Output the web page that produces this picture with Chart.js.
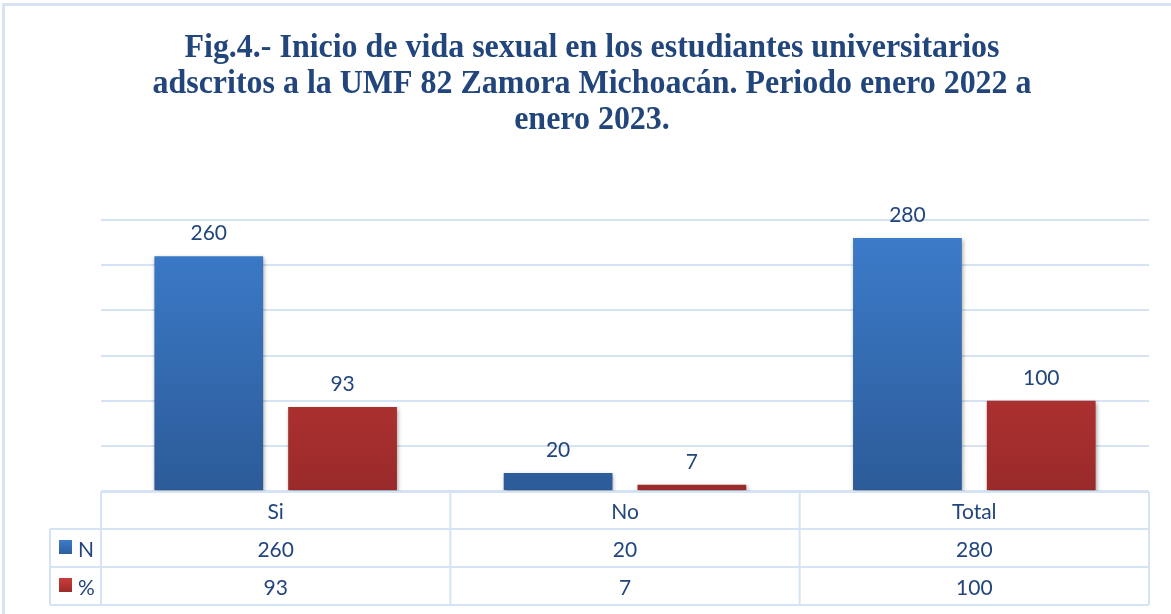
<!DOCTYPE html>
<html>
<head>
<meta charset="utf-8">
<script src="https://cdn.jsdelivr.net/npm/chart.js@4.4.1/dist/chart.umd.min.js"></script>
<style>
  html, body { margin: 0; padding: 0; background: #fff; }
  #wrap { width: 1171px; height: 614px; }
</style>
</head>
<body>
<div id="wrap"><canvas id="myChart" width="1171" height="614"></canvas></div>
<script>
// data
const categories = ["Si", "No", "Total"];
const valuesN = [260, 20, 280];
const valuesPct = [93, 7, 100];
const seriesNames = ["N", "%"];
const titleLines = [
    "Fig.4.- Inicio de vida sexual en los estudiantes universitarios",
    "adscritos a la UMF 82 Zamora Michoacán. Periodo enero 2022 a",
    "enero 2023."
];

const textBlue = "#22467c";
const lineBlue = "#d6e3f4";
const labelFont = "21px Lato, 'Open Sans', sans-serif";

const grad = (ctx, top, bottom) => {
    const chart = ctx.chart;
    const area = chart.chartArea;
    if (!area) return top;
    const g = chart.ctx.createLinearGradient(0, area.top, 0, area.bottom);
    g.addColorStop(0, top);
    g.addColorStop(1, bottom);
    return g;
};

const frame = {
    id: 'frame',
    beforeDraw: (chart) => {
        const ctx = chart.ctx;
        ctx.save();
        ctx.fillStyle = 'white';
        ctx.fillRect(0, 0, chart.width, chart.height);
        ctx.strokeStyle = lineBlue;
        ctx.lineWidth = 3;
        ctx.strokeRect(3.5, 4.5, chart.width + 10, chart.height + 10);
        // title
        ctx.fillStyle = textBlue;
        ctx.font = "bold 34px 'Liberation Serif', 'Times New Roman', serif";
        ctx.textAlign = 'center';
        ctx.textBaseline = 'alphabetic';
        const cx = 592;
        const sx = 0.94;
        titleLines.forEach((t, i) => {
            ctx.save();
            ctx.translate(cx, 57 + i * 36);
            ctx.scale(sx, 1);
            ctx.fillText(t, 0, 0);
            ctx.restore();
        });
        ctx.restore();
    }
};

const barShadow = {
    id: 'barShadow',
    beforeDatasetsDraw: (chart) => {
        const ctx = chart.ctx;
        ctx.save();
        ctx.shadowColor = 'rgba(0,0,0,0.35)';
        ctx.shadowBlur = 4;
        ctx.shadowOffsetX = 1;
        ctx.shadowOffsetY = 2;
    },
    afterDatasetsDraw: (chart) => {
        chart.ctx.restore();
    }
};

const labelsAndTable = {
    id: 'labelsAndTable',
    afterDraw: (chart) => {
        const ctx = chart.ctx;
        const area = chart.chartArea;
        const x = chart.scales.x;
        ctx.save();
        ctx.fillStyle = textBlue;
        ctx.font = labelFont;
        ctx.textAlign = 'center';
        ctx.textBaseline = 'alphabetic';
        // value labels above bars
        chart.data.datasets.forEach((ds, di) => {
            chart.getDatasetMeta(di).data.forEach((bar, i) => {
                ctx.fillText(String(ds.data[i]), bar.x, bar.y - 16);
            });
        });

        // data table
        const n = categories.length;
        const colW = (area.right - area.left) / n;
        const top = area.bottom + 1;
        const rowH = [37, 38, 38];
        const y1 = top + rowH[0];
        const y2 = y1 + rowH[1];
        const y3 = y2 + rowH[2];
        const leftX = 50;
        ctx.strokeStyle = lineBlue;
        ctx.lineWidth = 2;
        ctx.beginPath();
        // horizontal lines
        ctx.moveTo(area.left, top); ctx.lineTo(area.right, top);
        ctx.moveTo(leftX, y1); ctx.lineTo(area.right, y1);
        ctx.moveTo(leftX, y2); ctx.lineTo(area.right, y2);
        ctx.moveTo(leftX, y3); ctx.lineTo(area.right, y3);
        // vertical lines
        ctx.moveTo(leftX, y1); ctx.lineTo(leftX, y3);
        for (let i = 0; i <= n; i++) {
            const vx = area.left + i * colW;
            ctx.moveTo(vx, top); ctx.lineTo(vx, y3);
        }
        ctx.stroke();

        // header + values
        categories.forEach((c, i) => {
            const cx = x.getPixelForValue(i);
            ctx.fillText(c, cx, top + 27);
            ctx.fillText(String(valuesN[i]), cx, y1 + 28);
            ctx.fillText(String(valuesPct[i]), cx, y2 + 28);
        });

        // legend keys
        const keys = [["#3d7cc9", "#2d5e9c"], ["#cb3c39", "#9c2b2b"]];
        [y1, y2].forEach((ry, k) => {
            const g = ctx.createLinearGradient(0, ry + 11, 0, ry + 25);
            g.addColorStop(0, keys[k][0]);
            g.addColorStop(1, keys[k][1]);
            ctx.fillStyle = g;
            ctx.fillRect(59, ry + 11, 13, 14);
            ctx.fillStyle = textBlue;
            ctx.textAlign = 'left';
            ctx.fillText(seriesNames[k], 78, ry + 28);
            ctx.textAlign = 'center';
        });
        ctx.restore();
    }
};

const ctx = document.getElementById("myChart").getContext("2d");

const myChart = new Chart(ctx, {
    type: "bar",
    plugins: [frame, barShadow, labelsAndTable],
    data: {
        labels: categories,
        datasets: [{
            label: seriesNames[0],
            data: valuesN,
            backgroundColor: (c) => grad(c, "#3d7dcc", "#2c5b98")
        }, {
            label: seriesNames[1],
            data: valuesPct,
            backgroundColor: (c) => grad(c, "#cd3d3a", "#9a2a2a")
        }]
    },
    options: {
        responsive: false,
        animation: false,
        layout: {
            padding: { left: 101, right: 22, top: 220, bottom: 123 }
        },
        datasets: {
            bar: { categoryPercentage: 0.766, barPercentage: 0.813 }
        },
        plugins: {
            legend: { display: false },
            title: { display: false },
            tooltip: { enabled: false }
        },
        scales: {
            x: {
                display: false
            },
            y: {
                min: 0,
                max: 300,
                ticks: { display: false, stepSize: 50 },
                border: { display: false },
                grid: { color: lineBlue, lineWidth: 2, drawTicks: false },
                afterFit: (scale) => { scale.width = 0; }
            }
        }
    }
});
</script>
</body>
</html>
